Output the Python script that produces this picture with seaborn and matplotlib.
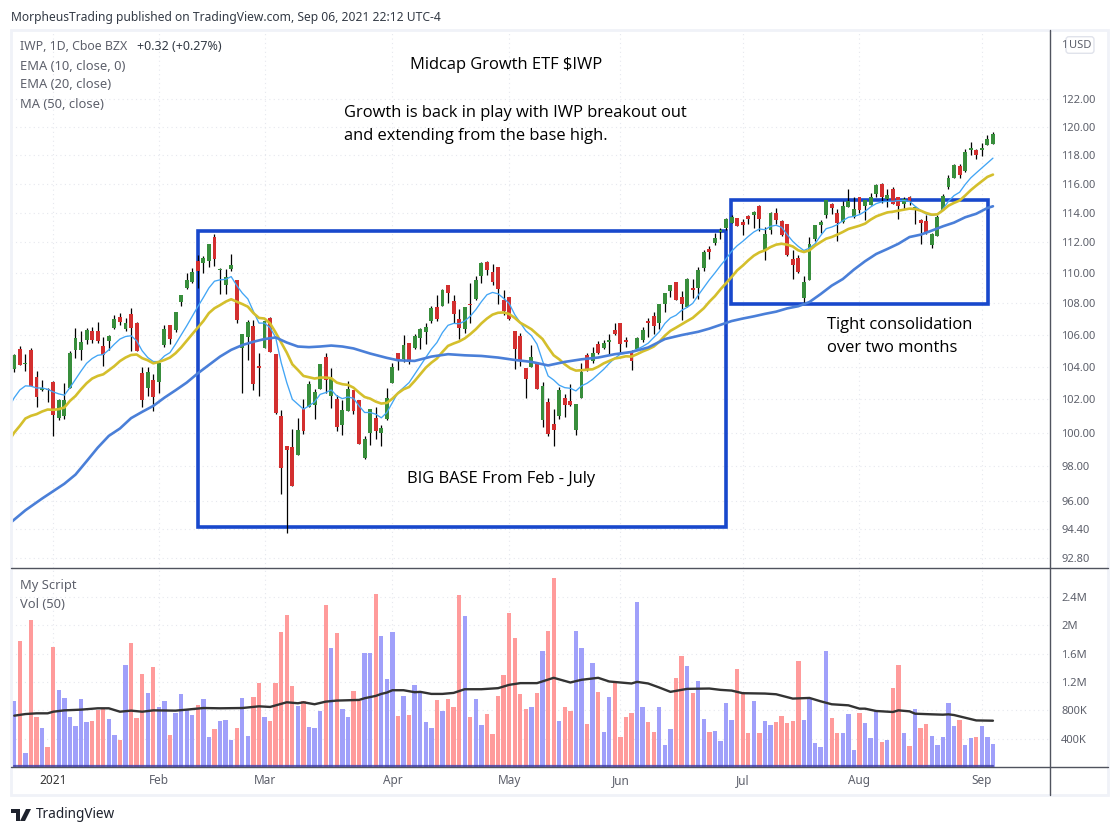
import numpy as np
import seaborn as sns
import matplotlib
matplotlib.use("Agg")
import matplotlib.pyplot as plt
from matplotlib.lines import Line2D
from matplotlib.patches import Rectangle, Polygon

# daily candles (first bar is late Dec 2020)
opens = [
    103.84, 105.09, 104.16, 105.03, 103.39, 102.57, 102.65, 103.04, 100.86, 101.00,
    102.71, 105.05, 105.05, 105.68, 106.23, 106.23, 105.28, 105.60, 106.41, 107.16,
    106.35, 107.34, 106.76, 103.59, 102.67, 103.16, 103.04, 105.35, 106.60, 106.29,
    108.09, 109.02, 109.42, 110.74, 110.61, 110.74, 112.37, 110.15, 109.22, 110.22,
    109.49, 105.16, 105.85, 106.54, 104.02, 105.16, 107.09, 104.80, 100.98, 99.18,
    99.12, 98.64, 101.46, 101.54, 101.64, 102.61, 104.59, 102.20, 102.00, 100.44,
    101.28, 102.55, 101.94, 98.50, 99.96, 100.86, 99.96, 100.80, 102.98, 104.88,
    104.46, 105.47, 105.16, 105.79, 106.17, 106.85, 107.77, 107.84, 109.22, 108.16,
    106.97, 106.35, 107.96, 108.27, 109.76, 110.67, 110.02, 110.35, 108.22, 108.42,
    106.23, 105.92, 103.90, 104.00, 104.21, 100.74, 101.82, 100.50, 100.98, 102.06,
    101.88, 100.14, 102.06, 104.71, 104.34, 105.41, 105.16, 105.54, 106.29, 106.72,
    105.66, 104.84, 105.09, 105.66, 106.85, 107.20, 106.72, 107.96, 108.82, 109.36,
    108.42, 107.75, 109.02, 109.02, 110.29, 111.59, 111.96, 112.67, 112.99, 113.33,
    113.66, 113.39, 113.80, 113.87, 114.48, 111.52, 112.85, 114.00, 113.46, 113.26,
    110.92, 110.99, 108.33, 109.53, 112.25, 113.19, 113.87, 114.62, 114.00, 113.39,
    114.41, 113.73, 115.04, 114.48, 114.55, 115.31, 116.00, 114.97, 115.59, 115.04,
    114.62, 115.10, 114.30, 113.53, 113.46, 111.85, 112.45, 114.21, 115.79, 116.41,
    117.24, 116.90, 118.36, 118.36, 118.36, 118.71, 118.79,
]
closes = [
    104.71, 104.10, 104.21, 102.82, 102.14, 102.69, 102.57, 101.06, 101.94, 101.94,
    104.84, 105.77, 105.54, 106.29, 105.68, 105.58, 104.76, 105.92, 106.97, 106.78,
    106.72, 106.41, 104.95, 101.96, 103.65, 102.14, 104.21, 106.35, 105.73, 107.46,
    108.56, 109.49, 110.02, 110.09, 110.94, 111.91, 110.87, 110.22, 109.69, 110.48,
    106.91, 106.04, 106.78, 102.92, 103.90, 106.85, 104.90, 101.16, 97.92, 98.94,
    96.86, 100.14, 100.08, 102.92, 102.45, 104.15, 103.16, 103.29, 100.32, 101.34,
    102.61, 101.28, 99.30, 99.60, 101.40, 100.10, 100.26, 102.06, 103.96, 104.40,
    105.35, 104.32, 105.92, 106.35, 106.47, 107.73, 106.97, 108.89, 108.69, 107.34,
    106.41, 107.77, 107.89, 109.49, 110.61, 110.15, 109.42, 108.96, 107.49, 107.03,
    105.09, 104.38, 103.22, 104.59, 102.61, 102.80, 99.90, 100.14, 102.55, 101.64,
    101.64, 101.70, 103.65, 103.84, 104.84, 104.84, 105.47, 105.66, 106.04, 105.41,
    105.54, 104.34, 105.79, 106.29, 106.72, 106.54, 107.96, 108.69, 109.22, 108.22,
    107.96, 109.56, 108.89, 110.15, 111.39, 111.39, 112.31, 112.85, 113.55, 113.73,
    113.12, 113.19, 113.60, 114.07, 113.60, 112.58, 114.00, 113.53, 112.52, 111.19,
    110.53, 110.07, 109.40, 111.91, 113.19, 113.39, 114.90, 114.35, 113.33, 114.48,
    114.83, 114.28, 114.21, 114.90, 115.04, 115.93, 115.10, 115.24, 114.62, 114.48,
    114.97, 114.83, 114.41, 113.33, 112.65, 112.58, 113.73, 115.17, 116.41, 117.31,
    116.62, 118.21, 118.50, 118.00, 118.50, 119.14, 119.50,
]
highs = [
    104.82, 105.28, 104.82, 105.16, 103.71, 103.16, 102.71, 103.12, 102.04, 102.98,
    104.95, 106.41, 106.21, 106.41, 106.47, 106.78, 105.85, 106.00, 107.26, 107.38,
    107.07, 107.71, 106.78, 103.96, 103.96, 103.53, 104.25, 106.64, 106.60, 107.46,
    108.56, 110.00, 110.33, 111.13, 111.09, 111.91, 112.59, 110.29, 110.22, 111.26,
    109.49, 106.04, 106.95, 106.91, 104.84, 106.91, 107.16, 104.80, 101.34, 99.18,
    100.20, 100.86, 102.00, 103.12, 102.61, 104.15, 104.84, 103.90, 102.27, 101.94,
    103.14, 102.57, 101.94, 99.80, 101.44, 101.56, 100.44, 102.67, 104.25, 104.88,
    105.98, 105.47, 106.04, 106.45, 106.72, 107.84, 108.56, 108.96, 109.22, 108.56,
    107.65, 107.77, 109.29, 109.78, 110.69, 110.78, 110.54, 110.35, 108.89, 108.42,
    106.23, 106.10, 103.90, 105.35, 104.21, 103.04, 102.06, 101.40, 102.75, 102.30,
    102.92, 101.70, 104.21, 104.88, 105.22, 105.60, 105.66, 106.04, 106.72, 106.72,
    105.85, 105.03, 105.89, 106.47, 107.09, 107.46, 107.96, 108.69, 109.22, 109.36,
    108.80, 109.67, 109.56, 110.35, 111.52, 111.78, 112.63, 112.96, 113.64, 113.87,
    113.66, 113.57, 113.87, 114.14, 114.55, 113.03, 114.07, 114.35, 113.53, 113.26,
    111.52, 111.19, 109.80, 112.38, 113.19, 113.53, 114.90, 114.67, 114.25, 114.83,
    115.59, 115.10, 115.04, 114.90, 115.36, 116.00, 116.07, 115.59, 115.79, 115.04,
    115.10, 115.17, 114.48, 113.60, 113.87, 112.63, 113.87, 115.31, 116.62, 117.38,
    117.38, 118.43, 118.93, 118.43, 118.86, 119.43, 119.64,
]
lows = [
    103.67, 104.10, 103.73, 102.82, 101.54, 102.51, 101.84, 99.80, 100.76, 100.80,
    102.71, 104.52, 104.42, 105.39, 105.47, 105.51, 104.04, 105.05, 106.35, 106.62,
    106.25, 104.99, 104.95, 101.54, 102.20, 101.30, 102.37, 105.24, 105.41, 106.19,
    107.84, 108.96, 109.33, 109.02, 109.96, 110.35, 110.42, 108.62, 108.58, 110.09,
    106.72, 102.39, 104.42, 102.55, 102.20, 105.16, 104.90, 101.10, 96.38, 94.20,
    96.86, 98.64, 99.90, 101.54, 100.80, 102.61, 102.41, 101.46, 100.08, 99.84,
    101.28, 101.10, 99.30, 98.44, 99.24, 99.60, 99.20, 100.74, 102.98, 103.78,
    104.32, 104.17, 105.09, 105.09, 105.41, 106.72, 106.89, 107.84, 108.02, 106.72,
    105.73, 106.10, 106.72, 108.22, 109.29, 109.82, 109.22, 107.96, 107.28, 106.91,
    103.84, 104.04, 102.06, 103.98, 102.61, 100.34, 99.80, 99.20, 100.80, 100.92,
    101.58, 99.84, 102.06, 103.71, 104.25, 104.78, 105.09, 104.78, 105.98, 104.88,
    105.22, 103.78, 105.09, 105.54, 105.85, 106.04, 106.35, 107.46, 108.42, 108.22,
    106.91, 107.75, 108.36, 108.29, 110.13, 110.87, 111.85, 112.25, 112.85, 113.30,
    113.08, 112.52, 113.26, 112.97, 112.74, 110.86, 112.58, 113.26, 112.40, 111.08,
    109.60, 109.98, 108.02, 109.49, 112.07, 112.63, 113.62, 113.93, 112.07, 113.33,
    114.41, 113.66, 114.00, 113.53, 114.55, 115.04, 114.69, 114.41, 114.62, 113.60,
    114.28, 114.55, 113.26, 111.91, 112.58, 111.65, 112.40, 114.21, 115.59, 116.37,
    116.35, 116.83, 118.00, 117.72, 117.93, 118.71, 118.79,
]

# moving averages, one value per bar starting one bar left of the first candle
ema10 = [
    101.5, 102.1, 102.57, 102.82, 102.8, 102.69, 102.69, 102.61, 102.45, 102.33,
    102.25, 102.71, 103.22, 103.73, 104.21, 104.51, 104.71, 104.76, 105.05, 105.41,
    105.73, 105.89, 105.94, 105.62, 104.99, 104.57, 104.32, 104.32, 104.67, 104.88,
    105.41, 105.98, 106.56, 107.18, 107.79, 108.38, 109.0, 109.44, 109.53, 109.56,
    109.74, 109.16, 108.67, 108.29, 107.49, 106.74, 106.74, 106.45, 105.83, 104.25,
    103.02, 102.0, 101.7, 101.4, 101.6, 101.84, 102.3, 102.41, 102.57, 102.2,
    102.04, 102.14, 102.06, 101.6, 101.2, 101.2, 101.1, 100.88, 101.2, 101.8,
    102.41, 102.71, 103.02, 103.53, 104.04, 104.57, 105.09, 105.51, 106.14, 106.6,
    106.72, 106.7, 106.87, 107.18, 107.6, 108.11, 108.56, 108.71, 108.62, 108.33,
    108.0, 107.28, 106.76, 106.25, 105.94, 105.41, 104.36, 103.43, 103.18, 102.86,
    102.71, 102.67, 102.51, 102.82, 102.98, 103.22, 103.53, 103.84, 104.21, 104.53,
    104.78, 104.84, 104.92, 105.09, 105.26, 105.47, 105.83, 106.19, 106.72, 107.07,
    107.24, 107.55, 107.75, 108.0, 108.53, 109.03, 109.53, 109.98, 110.46, 110.9,
    111.41, 111.78, 112.07, 112.4, 112.7, 112.9, 112.85, 113.08, 113.15, 113.01,
    112.52, 112.07, 111.73, 111.46, 111.62, 111.91, 112.45, 112.92, 113.03, 113.19,
    113.46, 113.69, 113.75, 113.87, 114.09, 114.39, 114.62, 114.74, 114.78, 114.78,
    114.83, 114.83, 114.78, 114.44, 114.16, 113.91, 113.82, 113.87, 114.25, 114.78,
    115.17, 115.4, 115.93, 116.39, 116.74, 117.08, 117.43, 117.77,
]
ema20 = [
    99.5, 100.0, 100.4, 100.84, 101.0, 101.1, 101.26, 101.38, 101.36, 101.4,
    101.5, 101.9, 102.2, 102.61, 102.98, 103.27, 103.43, 103.53, 103.78, 104.04,
    104.35, 104.57, 104.73, 104.76, 104.53, 104.4, 104.21, 104.3, 104.42, 104.57,
    104.84, 105.2, 105.62, 106.04, 106.45, 106.87, 107.38, 107.69, 107.89, 108.11,
    108.27, 108.11, 107.96, 107.79, 107.38, 107.07, 107.03, 106.72, 106.14, 105.51,
    104.88, 104.15, 103.8, 103.43, 103.35, 103.27, 103.33, 103.33, 103.29, 103.02,
    102.92, 102.88, 102.71, 102.41, 102.14, 102.04, 101.86, 101.74, 101.78, 102.04,
    102.37, 102.61, 102.75, 103.12, 103.53, 103.94, 104.25, 104.51, 104.92, 105.3,
    105.45, 105.58, 105.77, 106.04, 106.35, 106.72, 107.03, 107.28, 107.4, 107.42,
    107.32, 107.07, 106.76, 106.56, 106.35, 106.04, 105.73, 105.2, 104.71, 104.46,
    104.15, 103.9, 103.76, 103.78, 103.82, 103.84, 104.0, 104.21, 104.36, 104.51,
    104.57, 104.65, 104.63, 104.78, 104.95, 105.09, 105.26, 105.56, 105.94, 106.25,
    106.45, 106.66, 106.87, 107.07, 107.38, 107.69, 108.11, 108.47, 108.91, 109.31,
    109.71, 110.15, 110.46, 110.81, 111.12, 111.34, 111.47, 111.69, 111.85, 111.91,
    111.85, 111.73, 111.47, 111.36, 111.47, 111.78, 112.02, 112.25, 112.36, 112.52,
    112.7, 112.9, 113.01, 113.12, 113.26, 113.53, 113.75, 113.89, 114.02, 114.07,
    114.14, 114.21, 114.28, 114.25, 114.14, 113.98, 113.87, 113.89, 114.16, 114.48,
    114.67, 114.83, 115.17, 115.54, 115.86, 116.16, 116.46, 116.62,
]
ma50_bars = [0, 3, 6, 10, 12, 14, 16, 18, 20, 22, 24, 26, 28, 30, 32, 34, 36, 38, 40, 42,
             44, 46, 48, 50, 52, 54, 56, 58, 60, 62, 65, 68, 70, 73, 76, 79, 82, 85, 88, 91,
             94, 97, 100, 103, 106, 109, 112, 115, 118, 121, 124, 126, 130, 132, 134, 136, 138, 140, 142, 144,
             146, 148, 150, 152, 154, 156, 158, 160, 162, 164, 166, 168, 170, 172, 174, 176, 177]
ma50 = [94.68, 95.47, 96.14, 96.99, 97.52, 98.3, 99.1, 99.8, 100.24, 100.86,
        101.24, 101.6, 102.1, 102.55, 103.02, 103.59, 104.11, 104.63, 105.05, 105.35,
        105.56, 105.73, 105.83, 105.51, 105.26, 105.22, 105.26, 105.32, 105.26, 105.14,
        104.82, 104.55, 104.4, 104.36, 104.63, 104.78, 104.71, 104.67, 104.57, 104.42,
        104.3, 104.08, 104.3, 104.46, 104.57, 104.78, 104.92, 105.2, 105.73, 105.98,
        106.19, 106.39, 106.87, 107.03, 107.17, 107.33, 107.47, 107.68, 107.82, 108.09,
        108.6, 109.15, 109.58, 110.2, 110.75, 111.23, 111.56, 111.91, 112.36, 112.52,
        112.79, 113.08, 113.33, 113.69, 113.93, 114.32, 114.44]

# volume in thousands, one per candle
volume = [
    932, 1783, 194, 2067, 705, 549, 279, 1698, 1088, 974,
    705, 577, 960, 634, 648, 804, 832, 676, 449, 378,
    1443, 1755, 691, 1315, 1045, 1414, 847, 932, 449, 762,
    1031, 804, 733, 875, 960, 421, 534, 648, 662, 378,
    549, 974, 435, 989, 1187, 705, 648, 1187, 1911, 2138,
    1145, 861, 932, 563, 549, 790, 2280, 1684, 1897, 818,
    705, 1074, 932, 1613, 1613, 2436, 1854, 1244, 1911, 719,
    1003, 733, 1159, 1045, 634, 549, 946, 790, 960, 847,
    2422, 2124, 705, 960, 591, 747, 464, 1003, 1301, 2166,
    1826, 1031, 818, 847, 1045, 1641, 1925, 2663, 648, 847,
    790, 1925, 1684, 605, 1471, 1060, 492, 989, 1187, 421,
    705, 762, 2322, 847, 634, 492, 847, 307, 534, 1258,
    1570, 1428, 1045, 1216, 676, 492, 506, 364, 903, 662,
    1386, 1060, 478, 932, 478, 648, 591, 634, 719, 620,
    648, 1499, 662, 960, 336, 279, 1641, 691, 478, 478,
    747, 237, 762, 620, 407, 790, 350, 378, 1116, 1443,
    478, 293, 818, 549, 605, 435, 307, 421, 903, 577,
    662, 307, 407, 421, 577, 421, 322,
]
volume_side = list(
    "BRBRRBRRBB" "BBBBRRRBBR" "BRRRBRBBRB" "BBBRBBRBBB" "RBBRRBRRRR"
    "RBRBBBRBRB" "BRRBBRBBBR" "BRBBBBRBRR" "RBRBBRRRRR" "RRRBRBRRBR"
    "RBBRBRBBRR" "RRBBRRBBBR" "RBRBBRBBBB" "RRRBRBBRRR" "RRBBBBBRRB"
    "BBRBBBRBRR" "BRBRRBBBBB" "RBBRBBB"
)
vol_ma_bars = [1, 3, 5, 7, 8, 10, 13, 16, 18, 20, 22, 24, 26, 30, 32, 35, 38, 42, 45, 47,
               50, 52, 53, 55, 57, 59, 63, 64, 66, 67, 68, 69, 71, 73, 74, 76, 78, 80, 82, 85,
               88, 90, 92, 95, 98, 101, 103, 106, 108, 112, 113, 115, 117, 119, 122, 126, 128, 130, 132, 136,
               138, 141, 144, 146, 148, 151, 153, 154, 156, 159, 160, 162, 163, 166, 168, 169, 170, 173, 174, 177]
vol_ma = [724, 747, 757, 757, 780, 799, 809, 828, 828, 780,
          795, 780, 799, 795, 809, 832, 828, 832, 856, 847,
          913, 899, 913, 885, 922, 937, 946, 970, 1003, 1031,
          1050, 1083, 1083, 1055, 1060, 1031, 1031, 1045, 1097, 1097,
          1112, 1159, 1183, 1183, 1258, 1192, 1230, 1258, 1206, 1178,
          1201, 1178, 1121, 1060, 1102, 1107, 1088, 1078, 1041, 1036,
          1026, 965, 974, 927, 885, 870, 823, 823, 790, 776,
          799, 785, 752, 743, 738, 743, 733, 676, 657, 653]

price_ticks = [122, 120, 118, 116, 114, 112, 110, 108, 106, 104, 102, 100, 98, 96, 94.4, 92.8]
price_labels = ["122.00", "120.00", "118.00", "116.00", "114.00", "112.00", "110.00", "108.00",
                "106.00", "104.00", "102.00", "100.00", "98.00", "96.00", "94.40", "92.80"]
vol_ticks = [400, 800, 1200, 1600, 2000, 2400]
vol_labels = ["400K", "800K", "1.2M", "1.6M", "2M", "2.4M"]
month_bars = [8, 27, 46, 69, 90, 110, 132, 153, 175]
month_labels = ["2021", "Feb", "Mar", "Apr", "May", "Jun", "Jul", "Aug", "Sep"]

GREEN = "#388e3c"
RED = "#d32f2f"
GRID = "#e6e8ee"
AXIS = "#50535e"
LABEL = "#5d606b"
BOX = "#1848cc"

W, H = 1120, 834


def px(x, y):
    return x / W, 1 - y / H


def put_text(x, y, s, **kw):
    kw.setdefault("va", "center")
    kw.setdefault("color", LABEL)
    kw.setdefault("fontsize", 9)
    fig.text(*px(x, y), s, **kw)


sns.set_theme(style="white")
plt.rcParams["font.family"] = ["Noto Sans", "DejaVu Sans"]

fig = plt.figure(figsize=(W / 100, H / 100), dpi=100, facecolor="white")
ax = fig.add_axes([11 / W, 1 - 568 / H, 1039 / W, 538 / H])
ax_vol = fig.add_axes([11 / W, 1 - 767 / H, 1039 / W, 199 / H], sharex=ax)

bars = np.arange(1, len(closes) + 1)
o, c = np.array(opens), np.array(closes)
candle_colors = [GREEN if up else RED for up in c >= o]

ax.set_yscale("log")
ax.add_patch(Rectangle((34.04, 94.54), 94.92, 18.22, fill=False, ec=BOX, lw=2.6, zorder=1))
ax.add_patch(Rectangle((129.86, 107.96), 46.23, 6.91, fill=False, ec=BOX, lw=2.6, zorder=1))

ax.vlines(bars, lows, highs, color="black", lw=0.9, zorder=2)
ax.bar(bars, np.maximum(np.abs(c - o), 0.05), bottom=np.minimum(o, c), width=0.7,
       color=candle_colors, linewidth=0, zorder=3)

ma_bars = np.arange(len(ema10))
sns.lineplot(x=ma_bars, y=ema10, ax=ax, color="#42a5f5", lw=0.95, estimator=None, zorder=4)
sns.lineplot(x=ma_bars, y=ema20, ax=ax, color="#d4bf2c", lw=1.9, estimator=None, zorder=4)
sns.lineplot(x=ma50_bars, y=ma50, ax=ax, color="#4a7fd8", lw=1.9, estimator=None, zorder=4)

ax.set_xlim(0.406, 187.26)
ax.set_ylim(92.24, 127.12)
ax.yaxis.tick_right()
ax.set_yticks(price_ticks)
ax.set_yticklabels(price_labels)
ax.minorticks_off()
ax.tick_params(axis="y", length=0, pad=8, labelsize=8, labelcolor=LABEL)
ax.tick_params(axis="x", length=0, labelbottom=False)

# volume pane
sides = ["up" if s == "R" else "down" for s in volume_side]
sns.barplot(x=bars, y=volume, hue=sides, palette={"up": "#ff9b9b", "down": "#a0a0fa"},
            native_scale=True, dodge=False, width=0.78, saturation=1, errorbar=None,
            legend=False, linewidth=0, ax=ax_vol, zorder=2)
ax_vol.plot(bars, np.zeros(len(bars)) + 8, color="#3c3ca8", lw=1.6, alpha=0.8, zorder=3)
sns.lineplot(x=vol_ma_bars, y=vol_ma, ax=ax_vol, color="#333333", lw=1.7, estimator=None, zorder=4)
ax_vol.set_xlim(0.406, 187.26)
ax_vol.set_ylim(0, 2807)
ax_vol.yaxis.tick_right()
ax_vol.set_yticks(vol_ticks)
ax_vol.set_yticklabels(vol_labels)
ax_vol.tick_params(axis="y", length=0, pad=8, labelsize=8, labelcolor=LABEL)
ax_vol.set_xticks(month_bars)
ax_vol.set_xticklabels(month_labels)
ax_vol.tick_params(axis="x", length=0, pad=5, labelsize=8.5, labelcolor=LABEL)
ax_vol.get_xticklabels()[0].set_fontweight("bold")
ax_vol.get_xticklabels()[0].set_color("#333333")
ax_vol.set_xlabel("")
ax_vol.set_ylabel("")

for a in (ax, ax_vol):
    a.set_axisbelow(True)
    a.grid(True, color=GRID, lw=0.8, ls=(0, (1, 3)))
    a.set_ylabel("")
    sns.despine(ax=a, left=True, top=True, right=True, bottom=True)

# pane frame and separators
fig.add_artist(Rectangle(px(11, 795), 1097 / W, 765 / H, fill=False, ec="#f0f2f8", lw=2,
                         transform=fig.transFigure))
fig.add_artist(Line2D([11 / W, 1108 / W], [1 - 568 / H] * 2, color=AXIS, lw=1))
fig.add_artist(Line2D([11 / W, 1108 / W], [1 - 767 / H] * 2, color=AXIS, lw=1))
fig.add_artist(Line2D([1050 / W] * 2, [1 - 30 / H, 1 - 795 / H], color=AXIS, lw=1))

# header and legends
put_text(11, 17, "MorpheusTrading published on TradingView.com, Sep 06, 2021 22:12 UTC-4",
         color="#333a45", fontsize=8.7)
put_text(20, 46, "IWP, 1D, Cboe BZX", fontsize=8.9)
put_text(137, 46, "+0.32 (+0.27%)", fontsize=9, color="#333a45")
put_text(20, 66, "EMA (10, close, 0)", fontsize=9.3)
put_text(20, 85, "EMA (20, close)", fontsize=9.3)
put_text(20, 104, "MA (50, close)", fontsize=9.3)
put_text(20, 586, "My Script", fontsize=9.3)
put_text(20, 605, "Vol (50)", fontsize=9.3)
put_text(1080, 45, "USD", fontsize=8, ha="center",
         bbox=dict(boxstyle="round,pad=0.25", fc="white", ec="#e0e3eb", lw=1))
put_text(1061, 45, "1", fontsize=8)

# chart notes
note = dict(color="black", fontsize=11.9, family=["Open Sans", "DejaVu Sans"])
put_text(410, 65, "Midcap Growth ETF $IWP", **note)
put_text(344, 113, "Growth is back in play with IWP breakout out", **note)
put_text(344, 136, "and extending from the base high.", **note)
put_text(407, 479, "BIG BASE From Feb - July", **note)
put_text(827, 325, "Tight consolidation", **note)
put_text(827, 348, "over two months", **note)

# TradingView logo
logo = "#1e222d"
fig.add_artist(Polygon([px(11, 809), px(20, 809), px(20, 821), px(16, 821), px(16, 813), px(11, 813)],
                       closed=True, fc=logo, ec="none", transform=fig.transFigure))
fig.add_artist(Polygon([px(26, 809), px(31, 809), px(25, 821), px(20, 821)],
                       closed=True, fc=logo, ec="none", transform=fig.transFigure))
put_text(36, 815, "TradingView", color=logo, fontsize=9.8, fontweight="medium")

fig.savefig("out.png", dpi=100, facecolor="white")
